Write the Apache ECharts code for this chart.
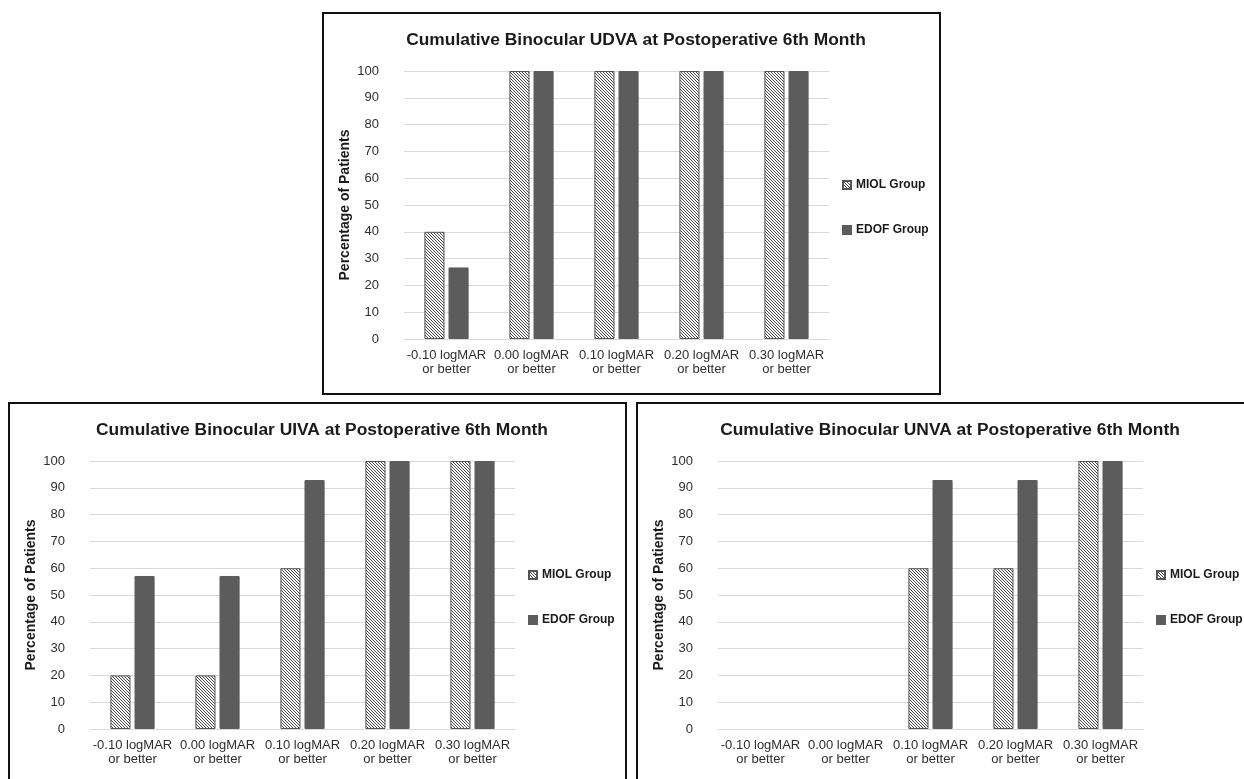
<!DOCTYPE html>
<html>
<head>
<meta charset="utf-8">
<script src="https://cdn.jsdelivr.net/npm/echarts@6/dist/echarts.min.js"></script>
<style>
html,body{margin:0;padding:0;background:#fff;overflow:hidden;}
#c{width:1244px;height:779px;}
</style>
</head>
<body>
<div id="c"></div>
<script>
// ---- data ----
const categories = ['-0.10 logMAR\nor better', '0.00 logMAR\nor better', '0.10 logMAR\nor better', '0.20 logMAR\nor better', '0.30 logMAR\nor better'];
const seriesNames = ['MIOL Group', 'EDOF Group'];
const chartTitles = [
  'Cumulative Binocular UDVA at Postoperative 6th Month',
  'Cumulative Binocular UIVA at Postoperative 6th Month',
  'Cumulative Binocular UNVA at Postoperative 6th Month'
];
const udvaMIOL = [40, 100, 100, 100, 100];
const udvaEDOF = [26.7, 100, 100, 100, 100];
const uivaMIOL = [20, 20, 60, 100, 100];
const uivaEDOF = [57.1, 57.1, 92.9, 100, 100];
const unvaMIOL = [0, 0, 60, 60, 100];
const unvaEDOF = [0, 0, 92.9, 92.9, 100];
const yMin = 0, yMax = 100, yStep = 10;
const yAxisName = 'Percentage of Patients';

// ---- layout ----
const boxes = [
  {x: 323, y: 13},
  {x: 9, y: 403},
  {x: 637, y: 403}
];
const BOX_W = 617, BOX_H = 381;
const FONT = '"Liberation Sans", Arial, sans-serif';

// hatch pattern (downward diagonal)
function makeHatch() {
  const p = 3;
  const cv = document.createElement('canvas');
  cv.width = p; cv.height = p;
  const ctx = cv.getContext('2d');
  ctx.fillStyle = '#ffffff';
  ctx.fillRect(0, 0, p, p);
  ctx.strokeStyle = '#3c3c3c';
  ctx.lineWidth = 0.95;
  ctx.beginPath();
  ctx.moveTo(-1, -1); ctx.lineTo(p + 1, p + 1);
  ctx.moveTo(-1, p - 1); ctx.lineTo(1, p + 1);
  ctx.moveTo(p - 1, -1); ctx.lineTo(p + 1, 1);
  ctx.stroke();
  return cv;
}
const hatch = makeHatch();

const allData = [[udvaMIOL, udvaEDOF], [uivaMIOL, uivaEDOF], [unvaMIOL, unvaEDOF]];

const grids = [], xAxes = [], yAxes = [], series = [], legends = [], graphics = [];
boxes.forEach((b, i) => {
  graphics.push({
    type: 'rect', silent: true,
    shape: {x: b.x, y: b.y, width: BOX_W, height: BOX_H},
    style: {fill: 'none', stroke: '#111', lineWidth: 2}
  });
  graphics.push({
    type: 'text', silent: true,
    x: b.x + 313, y: b.y + 27,
    style: {
      text: chartTitles[i], fill: '#1a1a1a',
      font: 'bold 17.4px ' + FONT,
      textAlign: 'center', textVerticalAlign: 'middle'
    }
  });
  grids.push({left: b.x + 81, top: b.y + 58, width: 425, height: 268});
  xAxes.push({
    type: 'category', gridIndex: i, data: categories,
    axisLine: {show: true, lineStyle: {color: '#d9d9d9', width: 1}},
    axisTick: {show: false},
    axisLabel: {color: '#2e2e2e', fontFamily: FONT, fontSize: 13, lineHeight: 14, margin: 9, interval: 0}
  });
  yAxes.push({
    type: 'value', gridIndex: i, min: yMin, max: yMax, interval: yStep,
    name: yAxisName, nameLocation: 'middle', nameGap: 52, nameRotate: 90,
    nameTextStyle: {color: '#1a1a1a', fontFamily: FONT, fontSize: 14, fontWeight: 'bold'},
    axisLine: {show: false}, axisTick: {show: false},
    axisLabel: {color: '#2e2e2e', fontFamily: FONT, fontSize: 13, margin: 25},
    splitLine: {lineStyle: {color: '#d9d9d9', width: 1}}
  });
  const [miol, edof] = allData[i];
  const mk = v => v === 0 ? {value: 0, itemStyle: {borderWidth: 0}} : v;
  series.push({
    name: seriesNames[0], type: 'bar', xAxisIndex: i, yAxisIndex: i,
    data: miol.map(mk),
    barGap: '20%', barCategoryGap: '48%',
    itemStyle: {color: {image: hatch, repeat: 'repeat'}, borderColor: '#555', borderWidth: 1},
    emphasis: {disabled: true}
  });
  series.push({
    name: seriesNames[1], type: 'bar', xAxisIndex: i, yAxisIndex: i,
    data: edof.map(mk),
    barGap: '20%', barCategoryGap: '48%',
    itemStyle: {color: '#5c5c5c', borderColor: '#5c5c5c', borderWidth: 1},
    emphasis: {disabled: true}
  });
  legends.push({
    orient: 'vertical', left: b.x + 519, top: b.y + 165, padding: 0,
    itemGap: 31, itemWidth: 8, itemHeight: 8, icon: 'rect',
    data: seriesNames,
    textStyle: {color: '#1a1a1a', fontFamily: FONT, fontSize: 12, fontWeight: 'bold', lineHeight: 14},
    selectedMode: false
  });
});

const chart = echarts.init(document.getElementById('c'), null, {renderer: 'canvas'});
chart.setOption({
  backgroundColor: '#fff',
  animation: false,
  grid: grids,
  xAxis: xAxes,
  yAxis: yAxes,
  series: series,
  legend: legends,
  graphic: graphics
});
</script>
</body>
</html>
